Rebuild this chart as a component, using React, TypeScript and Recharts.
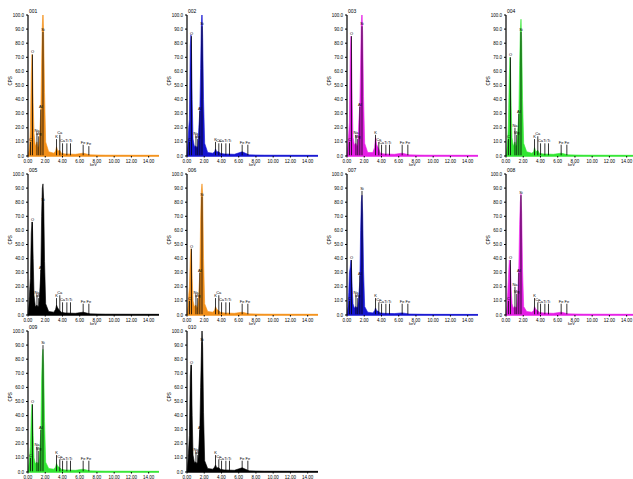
import React from 'react'
import { ComposedChart, Area, XAxis, YAxis, ReferenceLine } from 'recharts'

// energy grid (keV) shared by all spectra
const keV = [0, 0.12, 0.2, 0.28, 0.38, 0.46, 0.52, 0.6, 0.7, 0.85, 1.04, 1.15, 1.25, 1.37, 1.49, 1.58, 1.66, 1.74, 1.82, 1.92, 2.05, 2.4, 3.0, 3.2, 3.31, 3.45, 3.69, 3.85, 4.3, 5.5, 6.4, 7.2, 9.0, 15.2]

// counts
const spectrum001 = [0, 4, 9, 20, 58, 72, 66, 38, 16, 7, 10, 6, 7, 17, 33, 66, 92, 104, 86, 45, 10, 3, 2, 3.5, 6.5, 3.5, 4, 2, 1.5, 1.2, 2, 0.8, 0.6, 0.5]
const spectrum002 = [0, 10, 20, 26, 78, 86, 76, 40, 12, 7, 7, 6, 7, 20, 32, 62, 92, 104, 84, 40, 9, 2.5, 2, 3, 5, 3, 3, 2, 1.5, 1.2, 3, 0.8, 0.6, 0.5]
const spectrum003 = [0, 8, 16, 24, 74, 85, 76, 40, 13, 8, 9, 7, 8, 24, 36, 66, 94, 104, 86, 42, 9, 2.5, 2.5, 6, 13, 8, 5, 2, 1.5, 1.2, 2, 0.8, 0.6, 0.5]
const spectrum004 = [0, 6, 12, 22, 56, 70, 64, 36, 13, 7, 10, 7, 8, 18, 30, 64, 88, 97, 82, 40, 9, 3, 2, 3, 6, 3, 4, 2, 1.5, 1.2, 2, 0.8, 0.6, 0.5]
const spectrum005 = [0, 8, 18, 26, 58, 66, 63, 40, 14, 6, 7, 6, 6, 17, 30, 70, 90, 93, 82, 38, 8, 2.5, 2, 4, 7, 5, 3, 2, 1.5, 1.2, 2, 0.8, 0.6, 0.5]
const spectrum006 = [0, 6, 14, 20, 40, 47, 44, 26, 10, 6, 7, 5, 6, 16, 30, 68, 88, 93, 86, 40, 8, 2.5, 2, 3.5, 6, 4, 3, 2, 1.5, 1.2, 2, 0.8, 0.6, 0.5]
const spectrum007 = [0, 6, 16, 30, 34, 39, 34, 20, 8, 5, 6, 5, 6, 14, 24, 60, 80, 85, 72, 32, 6, 2, 1.5, 3, 5, 3, 2.5, 1.5, 1.2, 1, 1.5, 0.7, 0.5, 0.4]
const spectrum008 = [0, 6, 16, 26, 39, 36, 32, 18, 8, 5, 6, 5, 6, 16, 35, 64, 80, 86, 72, 32, 6, 2.5, 2, 3, 6, 4, 3, 2, 1.5, 1.2, 2, 0.8, 0.6, 0.5]
const spectrum009 = [0, 6, 12, 18, 40, 48, 44, 26, 10, 6, 7, 6, 7, 16, 28, 66, 82, 87, 76, 36, 7, 2.5, 2, 3.5, 6, 4, 3, 2, 1.5, 1.2, 2, 0.8, 0.6, 0.5]
const spectrum010 = [0, 8, 17, 26, 68, 76, 72, 40, 12, 7, 7, 6, 7, 17, 30, 60, 82, 104, 88, 42, 8, 2.5, 2, 3.5, 5, 3, 3, 2, 1.5, 1.2, 3, 0.8, 0.6, 0.5]

// element marker lines
const lineKeV = [0.28, 0.52, 1.04, 1.25, 1.49, 1.74, 3.31, 3.69, 4.01, 4.51, 4.93, 6.4, 7.06]
const lineNames = ['C', 'O', 'Na', 'Mg', 'Al', 'Si', 'K', 'Ca', 'Ca', 'Ti', 'Ti', 'Fe', 'Fe']
const heights001 = [10, 72, 16, 14, 33, 88, 12, 15, 9, 9, 9, 8, 7]
const heights002 = [10, 85, 14, 12, 32, 92, 10, 9, 9, 9, 9, 8, 8]
const heights003 = [10, 85, 15, 12, 35, 92, 15, 10, 8, 8, 8, 8, 8]
const heights004 = [12, 70, 20, 15, 30, 88, 12, 14, 9, 9, 9, 8, 8]
const heights005 = [10, 66, 14, 12, 32, 80, 12, 14, 9, 9, 9, 8, 8]
const heights006 = [10, 47, 14, 12, 30, 84, 12, 14, 9, 9, 9, 8, 8]
const heights007 = [10, 39, 14, 12, 28, 88, 12, 9, 8, 8, 8, 8, 8]
const heights008 = [10, 39, 20, 15, 30, 85, 12, 9, 8, 8, 8, 8, 8]
const heights009 = [10, 48, 18, 15, 30, 90, 12, 9, 8, 8, 8, 8, 8]
const heights010 = [10, 76, 14, 12, 30, 92, 12, 9, 8, 8, 8, 8, 8]

const panelTitles = ['001', '002', '003', '004', '005', '006', '007', '008', '009', '010']
const panelColors = ['#f39019', '#1414d2', '#e61ee6', '#32e632', '#000000', '#f39019', '#1414d2', '#e61ee6', '#32e632', '#000000']
const panelSpectra = [spectrum001, spectrum002, spectrum003, spectrum004, spectrum005, spectrum006, spectrum007, spectrum008, spectrum009, spectrum010]
const panelHeights = [heights001, heights002, heights003, heights004, heights005, heights006, heights007, heights008, heights009, heights010]

const yTicks = [0, 10, 20, 30, 40, 50, 60, 70, 80, 90, 100]
const xTicks = [0, 2, 4, 6, 8, 10, 12, 14]

const colLeft = [0, 159, 319, 478]
const rowTop = [0, 159, 316]
const FONT = '"Liberation Sans", Arial, sans-serif'

interface PanelProps {
    title: string
    color: string
    values: number[]
    heights: number[]
    left: number
    top: number
}

const Panel: React.FC<PanelProps> = ({ title, color, values, heights, left, top }) => {
    const data = keV.map((e, i) => ({ keV: e, cps: values[i] }))
    const tick = { fontSize: 4.5, fill: '#000', fontFamily: FONT }

    return (
        <div style={{ position: 'absolute', left, top, width: 163, height: 166 }}>
            <div style={{ position: 'absolute', left: 29, top: 8, fontSize: 5, fontFamily: FONT, color: '#000' }}>
                {title}
            </div>
            <ComposedChart width={163} height={166} data={data} margin={{ top: 15, right: 4, left: 4, bottom: 0 }}>
                <XAxis
                    dataKey='keV'
                    type='number'
                    domain={[0, 15.2]}
                    ticks={xTicks}
                    interval={0}
                    height={10}
                    tick={tick}
                    tickSize={1.5}
                    tickLine={{ stroke: '#000' }}
                    axisLine={{ stroke: color, strokeWidth: 1.5 }}
                    tickFormatter={v => v.toFixed(2)}
                    label={{ value: 'keV', position: 'insideBottom', offset: 0, fontSize: 4, fill: '#000', fontFamily: FONT }}
                />
                <XAxis
                    xAxisId='top'
                    type='number'
                    orientation='top'
                    domain={[0, 15.2]}
                    height={0}
                    tick={false}
                    tickLine={false}
                    axisLine={{ stroke: '#000', strokeWidth: 1.5 }}
                />
                <YAxis
                    type='number'
                    domain={[0, 100]}
                    allowDataOverflow
                    ticks={yTicks}
                    interval={0}
                    width={24}
                    tick={tick}
                    tickSize={2}
                    tickLine={{ stroke: '#000' }}
                    axisLine={{ stroke: '#000', strokeWidth: 1.2 }}
                    tickFormatter={v => v.toFixed(1)}
                    label={{ value: 'CPS', angle: -90, position: 'insideLeft', offset: 6, fontSize: 4.5, fill: '#000', fontFamily: FONT }}
                />
                <YAxis
                    yAxisId='right'
                    type='number'
                    orientation='right'
                    domain={[0, 100]}
                    width={0}
                    tick={false}
                    tickLine={false}
                    axisLine={{ stroke: '#000', strokeWidth: 1.5 }}
                />
                <Area
                    type='linear'
                    dataKey='cps'
                    stroke={color}
                    strokeWidth={0.6}
                    fill={color}
                    fillOpacity={1}
                    dot={false}
                    activeDot={false}
                    isAnimationActive={false}
                />
                {lineKeV.map((e, i) => (
                    <ReferenceLine
                        key={i}
                        segment={[{ x: e, y: 0 }, { x: e, y: heights[i] }]}
                        stroke='#000'
                        strokeWidth={0.8}
                        label={{ value: lineNames[i], position: 'top', offset: 1, fontSize: 4, fill: '#000', fontFamily: FONT }}
                    />
                ))}
            </ComposedChart>
        </div>
    )
}

export default function App() {
    return (
        <div style={{ position: 'absolute', left: 0, top: 0, width: 633, height: 479, overflow: 'hidden', background: '#fff' }}>
            {panelTitles.map((t, i) => (
                <Panel
                    key={t}
                    title={t}
                    color={panelColors[i]}
                    values={panelSpectra[i]}
                    heights={panelHeights[i]}
                    left={colLeft[i % 4]}
                    top={rowTop[Math.floor(i / 4)]}
                />
            ))}
        </div>
    )
}
